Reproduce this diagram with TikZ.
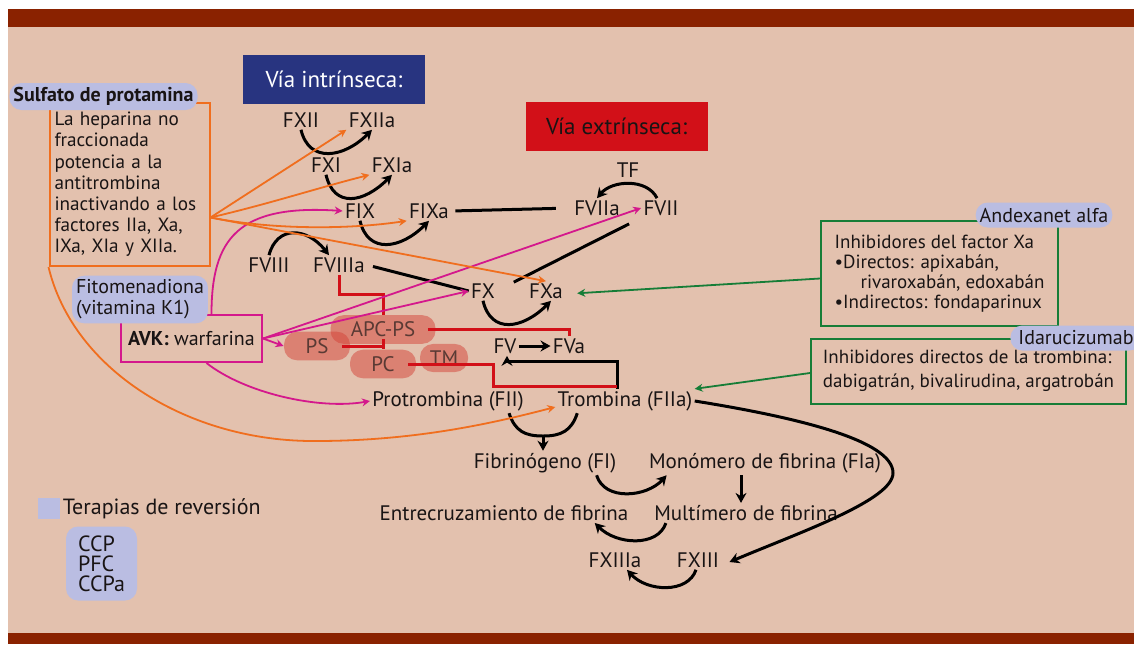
\documentclass[tikz,border=0pt]{standalone}
\usepackage{fontspec}
\setmainfont{PT Sans}
\usetikzlibrary{arrows.meta, calc, positioning}
\definecolor{panelbg}{RGB}{227,193,174}
\definecolor{bandred}{RGB}{138,34,0}
\definecolor{lav}{RGB}{186,189,226}
\definecolor{myorange}{RGB}{240,110,30}
\definecolor{mymagenta}{RGB}{212,24,140}
\definecolor{mygreen}{RGB}{22,125,55}
\definecolor{myred}{RGB}{210,16,24}
\definecolor{myblue}{RGB}{40,52,128}
\definecolor{pillred}{RGB}{212,66,56}
\definecolor{txtdark}{RGB}{25,20,20}
\definecolor{pilltxt}{RGB}{90,58,52}
\tikzset{
  fac/.style={font=\fontsize{10.5}{12}\selectfont, text=txtdark, inner sep=1pt},
  titlebox/.style={rectangle, minimum width=91pt, minimum height=24.5pt,
    font=\fontsize{11.5}{13}\selectfont},
  lavpill/.style={rectangle, fill=lav, rounded corners=6pt, inner sep=2pt,
    text=txtdark},
  redpill/.style={rectangle, fill=pillred, fill opacity=0.5, text opacity=1,
    rounded corners=6.5pt, text=pilltxt, font=\fontsize{10.5}{12}\selectfont},
  infobox/.style={rectangle, line width=1pt, align=left, text=txtdark,
    font=\fontsize{9.5}{10}\selectfont},
  actarrow/.style={-{Stealth[length=5pt, width=5.5pt]}, line width=1.5pt, color=black},
  actline/.style={line width=1.5pt, color=black},
  inhib/.style={line width=1.5pt, color=myred},
  orarrow/.style={-{Stealth[length=4pt, width=4pt]}, line width=0.9pt, color=myorange},
  magarrow/.style={-{Stealth[length=4pt, width=4pt]}, line width=0.9pt, color=mymagenta},
  grarrow/.style={-{Stealth[length=4pt, width=4pt]}, line width=0.9pt, color=mygreen}
}
\begin{document}
\begin{tikzpicture}[x=0.5pt, y=-0.5pt]
  \useasboundingbox (0,0) rectangle (1134,644);
  \clip (0,0) rectangle (1134,644);
  % panel and bands
  \fill[white] (0,0) rectangle (1134,644);
  \fill[panelbg] (8,27) rectangle (1134,633);
  \fill[bandred] (8,9) rectangle (1134,27);
  \fill[bandred] (8,633) rectangle (1134,644);

  % headers
  \node[titlebox, fill=myblue, text=white] (intr) at (334,79.5) {Vía intrínseca:};
  \node[titlebox, fill=myred, text=txtdark] (extr) at (616.5,126.5) {Vía extrínseca:};

  % heparin box
  \node[infobox, draw=myorange, text width=75pt, minimum height=81.5pt, inner xsep=2.5pt,
    inner ysep=3pt, font=\fontsize{9.6}{10.6}\selectfont] (hep) at (129.5,184.5)
    {La heparina no\\ fraccionada\\ potencia a la\\ antitrombina\\ inactivando a los\\
     factores IIa, Xa,\\ IXa, XIa y XIIa.};
  \node[lavpill, font=\bfseries\fontsize{10}{12}\selectfont, minimum width=93.5pt,
    minimum height=13.5pt] (prot) at (103.5,96.5) {Sulfato de protamina};

  % AVK box
  \node[infobox, draw=mymagenta, minimum width=70.5pt, minimum height=23.5pt, align=center,
    font=\fontsize{10}{12}\selectfont] (avk) at (191.5,338.5) {\textbf{AVK:} warfarina};
  \node[lavpill, align=left, minimum width=65pt, minimum height=23.5pt,
    font=\fontsize{10}{10.5}\selectfont] (vitk) at (140,299.5) {Fitomenadiona\\(vitamina K1)};

  % inhibitor boxes
  \node[infobox, draw=mygreen, minimum width=118.5pt, minimum height=52.5pt] (xainh) at (939.5,273.5)
    {Inhibidores del factor Xa\\ \textbullet Directos: apixabán,\\
     \hspace*{13pt}rivaroxabán, edoxabán\\ \textbullet Indirectos: fondaparinux};
  \node[lavpill, minimum width=68pt, minimum height=12.5pt,
    font=\fontsize{10}{12}\selectfont] (andex) at (1044,215) {Andexanet alfa};
  \node[infobox, draw=mygreen, minimum width=157.5pt, minimum height=32.5pt,
    font=\fontsize{9.5}{12}\selectfont] (thrinh) at (968.5,371)
    {Inhibidores directos de la trombina:\\ dabigatrán, bivalirudina, argatrobán};
  \node[lavpill, anchor=east, inner xsep=4pt, minimum height=12.5pt,
    font=\fontsize{10}{12}\selectfont] (idaru) at (1142,338) {Idarucizumab};

  % factors
  \node[fac] (fxii) at (301,120) {FXII};
  \node[fac] (fxiia) at (372,120) {FXIIa};
  \node[fac] (fxi) at (326,165) {FXI};
  \node[fac] (fxia) at (392,165) {FXIa};
  \node[fac] (fix) at (360,211) {FIX};
  \node[fac] (fixa) at (429,211) {FIXa};
  \node[fac] (fviii) at (269,265) {FVIII};
  \node[fac] (fviiia) at (339,265) {FVIIIa};
  \node[fac] (fx) at (483,291) {FX};
  \node[fac] (fxa) at (546,291) {FXa};
  \node[fac] (tf) at (628,170) {TF};
  \node[fac] (fviia) at (597,208) {FVIIa};
  \node[fac] (fvii) at (661,208) {FVII};
  \node[fac] (fv) at (505,346) {FV};
  \node[fac] (fva) at (569,346) {FVa};
  \node[fac] (fii) at (448,401) {Protrombina (FII)};
  \node[fac] (fiia) at (625,401) {Trombina (FIIa)};
  \node[fac] (fi) at (545,463) {Fibrinógeno (FI)};
  \node[fac] (fia) at (765,463) {Monómero de fibrina (FIa)};
  \node[fac] (entrec) at (504,513) {Entrecruzamiento de fibrina};
  \node[fac] (multi) at (746,513) {Multímero de fibrina};
  \node[fac] (fxiiia) at (615,560) {FXIIIa};
  \node[fac] (fxiii) at (698,560) {FXIII};

  % protein C system
  \node[redpill, minimum width=52.5pt, minimum height=13.5pt] (apcps) at (383,329.5) {APC-PS};
  \node[redpill, minimum width=33pt, minimum height=14pt] (ps) at (317,346) {PS};
  \node[redpill, minimum width=33pt, minimum height=14pt] (pc) at (383,364) {PC};
  \node[redpill, minimum width=24pt, minimum height=13.5pt] (tm) at (444,358) {TM};

  % legend
  \node[fill=lav, minimum width=11pt, minimum height=10.5pt, inner sep=0pt] (legsq) at (49,508.5) {};
  \node[right=1pt of legsq, inner sep=0pt, text=txtdark,
    font=\fontsize{11}{13}\selectfont] (legtxt) {Terapias de reversión};
  \node[lavpill, align=left, minimum width=35.5pt, minimum height=37pt,
    font=\fontsize{11}{10}\selectfont] (revlist) at (101.5,563.5) {CCP\\PFC\\CCPa};

  % activations
  \draw[actarrow] (fxii.south) .. controls +(8,34) and +(-28,28) .. (fxiia.south);
  \draw[actarrow] (fxi.south) .. controls +(8,34) and +(-28,28) .. (fxia.south);
  \draw[actarrow] (fix.south) .. controls +(8,34) and +(-28,28) .. (fixa.south);
  \draw[actarrow] (fviii.north) .. controls +(8,-30) and +(-22,-28) .. ($(fviiia.north)+(-10,0)$);
  \draw[actarrow] (fx.south) .. controls +(8,34) and +(-28,28) .. ($(fxa.south)+(5,0)$);
  \draw[actarrow] ($(fvii.north)+(-4,0)$) .. controls +(-10,-20) and +(15,-18) .. (fviia.north);
  \draw[actline, shorten <=2pt, shorten >=8pt] (fixa.east) -- (fviia.west);
  \draw[actline, shorten <=3pt] (fviiia.east) -- (fx.west);
  \draw[actline] ($(fvii.south west)+(-12,6)$) -- ($(fxa.north west)+(-13,1)$);
  \draw[actarrow] (fv.east) -- (fva.west);
  \draw[actarrow] ($(fiia.north)+(-8,0)$) -- ++(0,-27) -| ($(fv.south)+(2,0)$);

  % fibrin formation
  \coordinate (fjoin) at (543,436);
  \draw[actline] ($(fii.south east)+(-17,0)$) .. controls +(6,18) and +(-18,0) .. (fjoin)
    .. controls +(18,0) and +(-6,18) .. ($(fiia.south west)+(22,0)$);
  \draw[actarrow] (fjoin) -- (fjoin |- fi.north);
  \draw[actarrow] ($(fi.south east)+(-22,0)$) .. controls +(8,26) and +(-20,22) .. ($(fia.south west)+(20,0)$);
  \draw[actarrow] ([xshift=-12pt]fia.south) -- ([xshift=-12pt]fia.south |- multi.north);
  \draw[actarrow] ($(multi.south west)+(14,0)$) .. controls +(-8,24) and +(22,22) .. ($(entrec.south east)+(-36,0)$);
  \draw[actarrow] ($(fxiii.south)+(-2,0)$) .. controls +(-8,24) and +(20,22) .. ($(fxiiia.south)+(12,0)$);
  \coordinate (fturn) at (893,473);
  \draw[actarrow] (fiia.east) .. controls +(100,16) and +(0,-33) .. (fturn)
    .. controls +(0,27) and +(71,-30) .. ($(fxiii.east)+(8,2)$);

  % inhibition by APC-PS
  \draw[inhib] (fviiia.south) -- ++(0,20) -| (apcps.north);
  \draw[inhib] ($(apcps.east)+(-8,0)$) -| (fva.north);
  \draw[inhib] ($(apcps.south)+(0,-5)$) -- (pc.north);
  \draw[inhib] ($(ps.east)+(-8,0)$) -- (ps.east -| pc.north);
  \draw[inhib] ($(pc.east)+(-8,0)$) -- ++(85,0) |- ($(fiia.north)+(-8,-2)$);

  % AVK targets
  \draw[magarrow] (avk.east) -- (fx.west);
  \draw[magarrow] (avk.east) -- (fvii.west);
  \draw[magarrow] (avk.east) -- (ps.west);
  \draw[magarrow] ($(avk.north)+(20,0)$) .. controls +(0,-75) and +(-105,-7) .. (fix.west);
  \draw[magarrow] ($(avk.south)+(15,0)$) .. controls +(38,30) and +(-51,9) .. (fii.west);

  % heparin targets
  \coordinate (hepout) at ($(hep.east)+(0,33)$);
  \draw[orarrow] (hepout) -- (fxiia.south west);
  \draw[orarrow] (hepout) .. controls +(60,-14) and +(-55,14) .. (fxia.south west);
  \draw[orarrow] (hepout) .. controls +(60,12) and +(-60,9) .. (fixa.south west);
  \draw[orarrow] (hepout) -- (fxa.north);
  \coordinate (orlow) at (316,441);
  \draw[orarrow] (hep.south west) .. controls +(25,104) and +(-126,1) .. (orlow)
    .. controls +(104,0) and +(-54,14) .. ($(fiia.west)+(0,6)$);

  % direct anticoagulants
  \draw[grarrow, shorten >=6pt] ($(xainh.west)+(0,5)$) -- ($(fxa.east)+(0,3)$);
  \draw[grarrow] ($(thrinh.west)+(0,2)$) -- (fiia.north east);
\end{tikzpicture}
\end{document}
